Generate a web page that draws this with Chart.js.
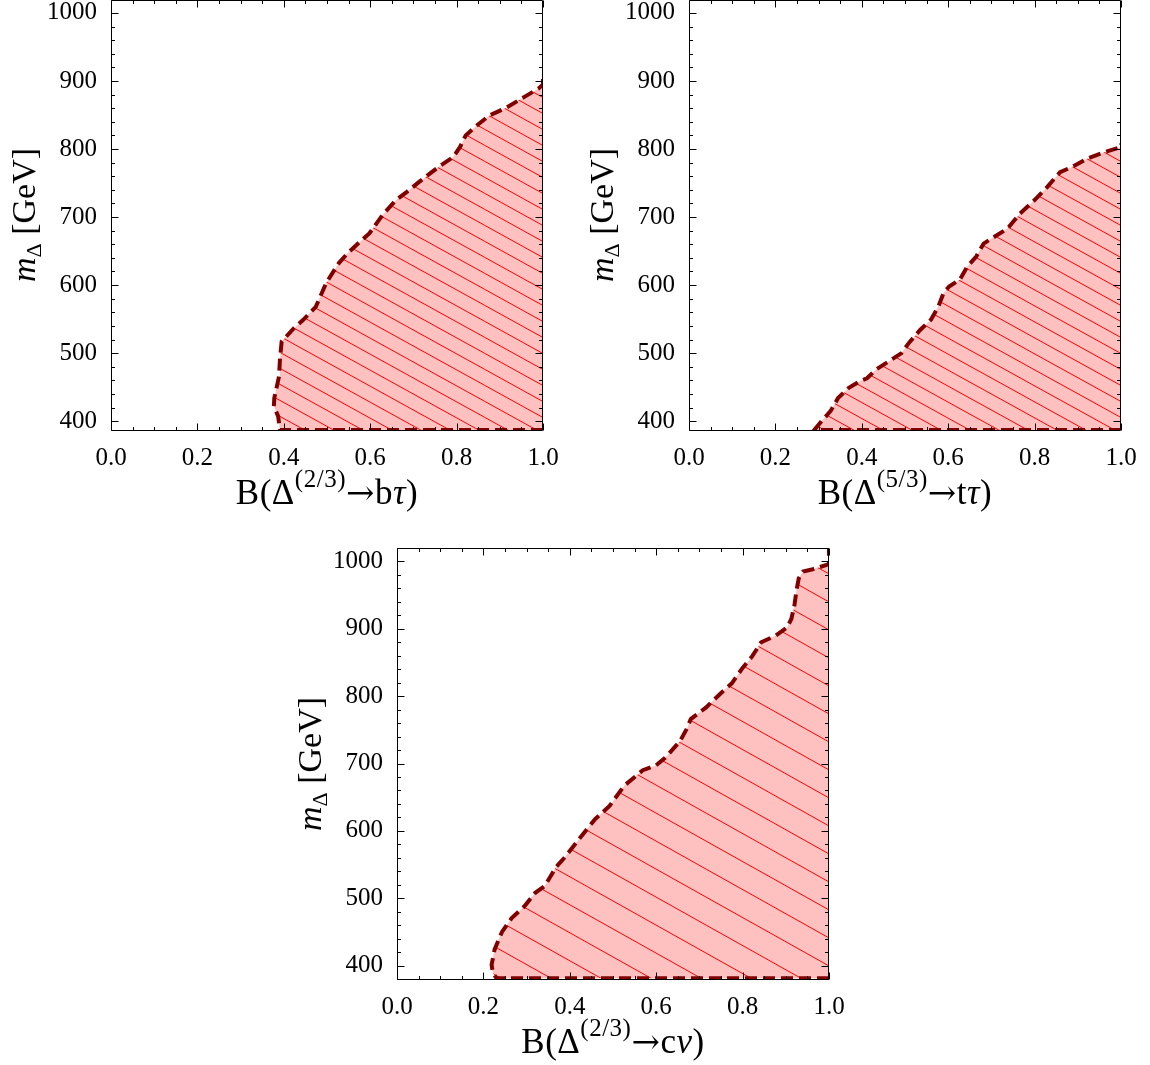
<!DOCTYPE html>
<html>
<head>
<meta charset="utf-8">
<script src="https://cdn.jsdelivr.net/npm/chart.js"></script>
<style>
  html, body { margin: 0; padding: 0; background: #fff; }
  body { width: 1150px; height: 1065px; position: relative; overflow: hidden; font-family: "Liberation Serif", "Times New Roman", serif; color: #000; }
  canvas { position: absolute; }
  .xtitle { position: absolute; font-size: 35px; line-height: 1; white-space: nowrap; transform: translateX(-50%); letter-spacing: 0.5px; }
  .xtitle sup { font-size: 25px; line-height: 0; position: relative; top: -17px; vertical-align: baseline; }
  .xtitle .arr { font-family: "DejaVu Serif", serif; font-size: 34px; }
  .ytitle { position: absolute; font-size: 34px; line-height: 1; white-space: nowrap; transform: translate(-50%, -50%) rotate(-90deg); }
  .ytitle sub { font-size: 22px; line-height: 0; position: relative; top: 6px; vertical-align: baseline; }
</style>
</head>
<body>
<script>
// tick labels
const xTicks = [0.0, 0.2, 0.4, 0.6, 0.8, 1.0];
const yTicks = [400, 500, 600, 700, 800, 900, 1000];

// excluded region boundary, B(Delta(2/3) -> b tau)
const btauX = [0.391, 0.387, 0.377, 0.378, 0.389, 0.391, 0.395, 0.424, 0.445, 0.474, 0.498, 0.527, 0.548, 0.577, 0.598,
               0.631, 0.660, 0.685, 0.714, 0.759, 0.792, 0.808, 0.821, 0.842, 0.875, 0.916, 0.958, 0.990, 1.0, 1.0];
const btauY = [387, 407, 422, 434, 466, 490, 517, 537, 549, 568, 603, 632, 647, 664, 676,
               705, 725, 737, 752, 774, 788, 803, 820, 832, 849, 861, 877, 889, 895, 911];

// B(Delta(5/3) -> t tau)
const ttauX = [0.290, 0.307, 0.328, 0.345, 0.370, 0.396, 0.412, 0.433, 0.463, 0.492, 0.509, 0.535, 0.560, 0.577, 0.589,
               0.602, 0.627, 0.644, 0.665, 0.682, 0.707, 0.737, 0.766, 0.800, 0.829, 0.859, 0.888, 0.922, 0.960, 1.0, 1.0];
const ttauY = [387, 400, 415, 434, 449, 459, 463, 476, 488, 500, 515, 534, 549, 568, 588,
               598, 608, 627, 642, 661, 671, 683, 705, 725, 744, 766, 774, 786, 795, 803, 808];

// B(Delta(2/3) -> c nu)
const cnuX = [0.2305, 0.222, 0.219, 0.226, 0.243, 0.265, 0.295, 0.320, 0.342, 0.368, 0.389, 0.423, 0.458, 0.492, 0.526,
              0.569, 0.599, 0.620, 0.655, 0.672, 0.680, 0.715, 0.749, 0.775, 0.800, 0.822, 0.843, 0.877, 0.903, 0.913,
              0.920, 0.925, 0.930, 0.940, 0.960, 1.0, 1.0];
const cnuY = [381, 389, 401, 424, 450, 470, 488, 508, 518, 546, 561, 589, 617, 637, 667,
              690, 697, 708, 733, 753, 766, 783, 804, 819, 842, 859, 880, 890, 902, 915,
              935, 958, 975, 985, 988, 996, 1020];

const arrow = '<span class="arr">→</span>';
const panels = [
  { xs: btauX, ys: btauY, yMin: 387, yMax: 1019, area: [111, 0, 543, 430], hatch: [29, 16], clip: 0,
    title: 'B(Δ<sup>(2/3)</sup>' + arrow + 'b<i>τ</i>)' },
  { xs: ttauX, ys: ttauY, yMin: 387, yMax: 1019, area: [689, 0, 1121, 430], hatch: [29, 16], clip: 0,
    title: 'B(Δ<sup>(5/3)</sup>' + arrow + 't<i>τ</i>)' },
  { xs: cnuX, ys: cnuY, yMin: 380, yMax: 1020, area: [397, 548, 829, 979], hatch: [50, 28], clip: undefined,
    title: 'B(Δ<sup>(2/3)</sup>' + arrow + 'c<i>ν</i>)' }
];

function hatch(w, h) {
  const c = document.createElement('canvas');
  c.width = w; c.height = h;
  const g = c.getContext('2d');
  g.fillStyle = '#ffc0c0';
  g.fillRect(0, 0, w, h);
  g.strokeStyle = '#ff0000';
  g.lineWidth = 1;
  for (const k of [-1, 0, 1]) {
    g.beginPath();
    g.moveTo(0, k * h);
    g.lineTo(w, (k + 1) * h);
    g.stroke();
  }
  return g.createPattern(c, 'repeat');
}

// frame with inward major/minor ticks on all four sides
const frameTicks = {
  id: 'frameTicks',
  afterDatasetsDraw(chart) {
    const { ctx, chartArea: a, scales: { x, y } } = chart;
    const L = a.left + 0.5, R = a.right - 0.5, T = a.top + 0.5, B = a.bottom + 0.5;
    ctx.save();
    ctx.strokeStyle = '#000';
    ctx.lineWidth = 1;
    ctx.beginPath();
    ctx.moveTo(L, T); ctx.lineTo(R, T); ctx.lineTo(R, B); ctx.lineTo(L, B); ctx.closePath();
    for (let v = 0; v <= 1.0001; v += 0.05) {
      const len = xTicks.some(t => Math.abs(t - v) < 1e-6) ? 7 : 3.5;
      const px = Math.round(x.getPixelForValue(v)) + 0.5;
      ctx.moveTo(px, B); ctx.lineTo(px, B - len);
      ctx.moveTo(px, T); ctx.lineTo(px, T + len);
    }
    for (let v = Math.ceil(y.min / 20) * 20; v <= y.max; v += 20) {
      const len = yTicks.includes(v) ? 7 : 3.5;
      const py = Math.round(y.getPixelForValue(v)) + 0.5;
      ctx.moveTo(L, py); ctx.lineTo(L + len, py);
      ctx.moveTo(R, py); ctx.lineTo(R - len, py);
    }
    ctx.stroke();
    ctx.restore();
  }
};

function addText(cls, html, left, top) {
  const d = document.createElement('div');
  d.className = cls;
  d.innerHTML = html;
  d.style.left = left + 'px';
  d.style.top = top + 'px';
  document.body.appendChild(d);
}

const tickFont = { family: 'Liberation Serif', size: 25 };

panels.forEach(p => {
  const [aL, aT, aR, aB] = p.area;
  const canvas = document.createElement('canvas');
  canvas.width = aR - aL + 125;
  canvas.height = aB - aT + 60;
  canvas.style.left = (aL - 100) + 'px';
  canvas.style.top = (aT - 20) + 'px';
  document.body.appendChild(canvas);

  const curve = p.xs.map((v, i) => ({ x: v, y: p.ys[i] }));
  const corner = { x: 1, y: p.ys[0] };
  const outline = [corner].concat(curve);
  const region = curve.concat([corner]);

  const line = {
    data: outline,
    borderColor: '#800000',
    borderWidth: 4,
    borderDash: [12, 6],
    pointRadius: 0,
    tension: 0,
    fill: false
  };
  if (p.clip !== undefined) line.clip = p.clip;

  new Chart(canvas, {
    type: 'line',
    data: {
      datasets: [
        line,
        {
          data: region,
          backgroundColor: hatch(p.hatch[0], p.hatch[1]),
          borderWidth: 0,
          pointRadius: 0,
          tension: 0,
          fill: 'shape'
        }
      ]
    },
    options: {
      responsive: false,
      animation: false,
      devicePixelRatio: 1,
      layout: { padding: { left: 10, top: 20, right: 25, bottom: 0 } },
      plugins: { legend: { display: false }, tooltip: { enabled: false } },
      scales: {
        x: {
          type: 'linear', min: 0, max: 1,
          grid: { display: false }, border: { display: false },
          afterBuildTicks: s => { s.ticks = xTicks.map(v => ({ value: v })); },
          afterFit: s => { s.height = 40; s.paddingLeft = 0; s.paddingRight = 0; },
          ticks: { font: tickFont, color: '#000', padding: 5, maxRotation: 0, autoSkip: false,
                   callback: v => v.toFixed(1) }
        },
        y: {
          type: 'linear', min: p.yMin, max: p.yMax,
          grid: { display: false }, border: { display: false },
          afterBuildTicks: s => { s.ticks = yTicks.map(v => ({ value: v })); },
          afterFit: s => { s.width = 90; s.paddingTop = 0; s.paddingBottom = 0; },
          ticks: { font: tickFont, color: '#000', padding: 6, autoSkip: false,
                   callback: v => String(v) }
        }
      }
    },
    plugins: [frameTicks]
  });

  addText('xtitle', p.title, (aL + aR) / 2, aB + 45);
  addText('ytitle', '<i>m</i><sub>Δ</sub> [GeV]', aL - 87.5, (aT + aB) / 2);
});
</script>
</body>
</html>
